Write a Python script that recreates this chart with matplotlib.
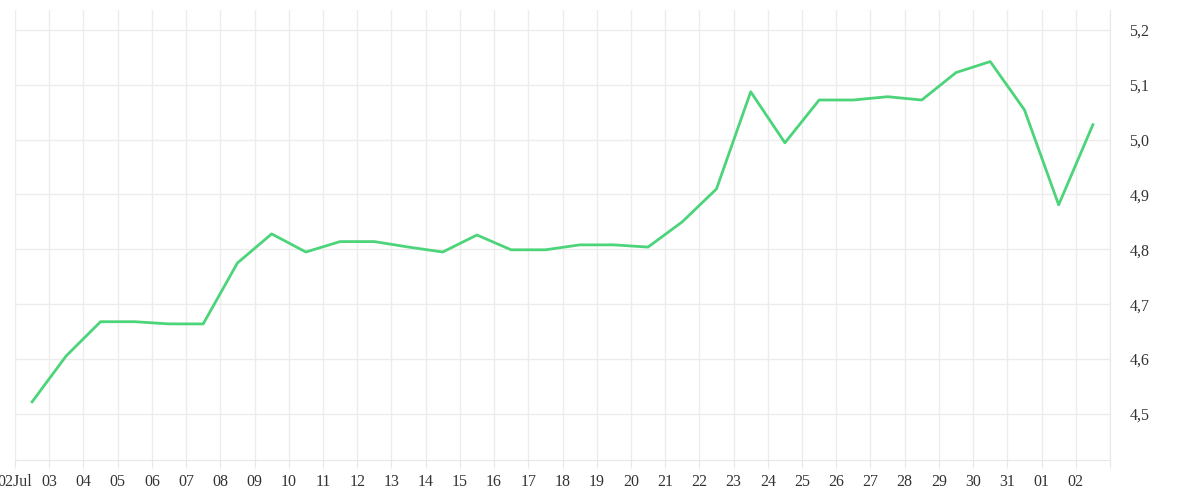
import matplotlib
matplotlib.use("Agg")
import matplotlib.pyplot as plt
import numpy as np

days = ["02Jul","03","04","05","06","07","08","09","10","11","12","13","14","15","16","17",
        "18","19","20","21","22","23","24","25","26","27","28","29","30","31","01","02"]
values = [4.522,4.606,4.668,4.668,4.664,4.664,4.775,4.828,4.795,4.814,4.814,4.804,4.795,4.826,
          4.799,4.799,4.808,4.808,4.804,4.850,4.910,5.087,4.994,5.072,5.072,5.078,5.072,5.122,
          5.142,5.054,4.881,5.027]
yticks = [4.5,4.6,4.7,4.8,4.9,5.0,5.1,5.2]

plt.rcParams['font.family'] = ['Liberation Serif', 'DejaVu Serif']
fig = plt.figure(figsize=(12,5), dpi=100)
ax = fig.add_axes([15/1200, 40/500, 1095/1200, 450/500])
x = np.arange(len(values)) + 0.5
ax.plot(x, values, color='#4cd47a', lw=2)
ax.set_xlim(0, len(days))
ax.set_ylim(4.416, 5.236)
ax.set_xticks(np.arange(len(days)+1))
ax.set_xticklabels(days+[""], fontsize=11.5, color='#333')
ax.set_yticks(yticks)
ax.set_yticklabels([f"{v:.1f}".replace('.',',') for v in yticks], fontsize=11.5, color='#333')
ax.yaxis.tick_right()
ax.tick_params(axis='y', length=0, pad=14)
ax.tick_params(axis='x', length=6, color='#e8e8e8', pad=4)
ax.grid(True, color='#ececec', lw=1)
for s in ['top','left']:
    ax.spines[s].set_visible(False)
for s in ['bottom','right']:
    ax.spines[s].set_color('#e8e8e8')
fig.savefig("out.png")
